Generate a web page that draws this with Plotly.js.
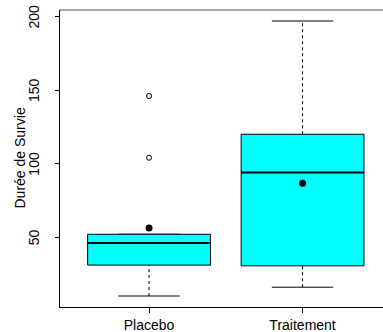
<!DOCTYPE html>
<html>
<head>
<meta charset="utf-8">
<script src="https://cdn.plot.ly/plotly-3.0.1.min.js"></script>
<style>html,body{margin:0;padding:0;background:#fff;}#chart{width:383px;height:332px;}</style>
</head>
<body>
<div id="chart"></div>
<script>
const categories = ['Placebo', 'Traitement'];
const lowerWhisker = [10, 16];
const q1 = [31, 30.5];
const median = [46, 94];
const q3 = [52, 120];
const upperWhisker = [52, 197];
const means = [56.3, 86.6];
const outliers = [[104, 146], []];
const yTicks = [50, 100, 150, 200];
const yTitle = 'Durée de Survie';

const half = 0.4, capHalf = 0.2;
const traces = [];
categories.forEach((c, i) => {
  const x = i + 1;
  traces.push({type: 'scatter', mode: 'lines', hoverinfo: 'skip',
    x: [x, x, null, x, x], y: [lowerWhisker[i], q1[i], null, q3[i], upperWhisker[i]],
    line: {color: '#000', width: 1, dash: '3px,3px'}});
  traces.push({type: 'scatter', mode: 'lines', hoverinfo: 'skip',
    x: [x - capHalf, x + capHalf, null, x - capHalf, x + capHalf],
    y: [lowerWhisker[i], lowerWhisker[i], null, upperWhisker[i], upperWhisker[i]],
    line: {color: '#000', width: 1}});
  traces.push({type: 'scatter', mode: 'lines', fill: 'toself', fillcolor: '#00FFFF', hoverinfo: 'skip',
    x: [x - half, x + half, x + half, x - half, x - half],
    y: [q1[i], q1[i], q3[i], q3[i], q1[i]],
    line: {color: '#000', width: 1}});
  traces.push({type: 'scatter', mode: 'lines', hoverinfo: 'skip',
    x: [x - half, x + half], y: [median[i], median[i]],
    line: {color: '#000', width: 2}});
  if (outliers[i].length) {
    traces.push({type: 'scatter', mode: 'markers', hoverinfo: 'skip',
      x: outliers[i].map(() => x), y: outliers[i],
      marker: {symbol: 'circle-open', size: 5, color: '#000', line: {width: 1, color: '#000'}}});
  }
});
traces.push({type: 'scatter', mode: 'markers', hoverinfo: 'skip',
  x: categories.map((c, i) => i + 1), y: means,
  marker: {symbol: 'circle', size: 7, color: '#000'}});

const annotations = yTicks.map(v => ({
  xref: 'paper', yref: 'y', x: 0, y: v, xshift: -26, xanchor: 'center', yanchor: 'middle',
  text: String(v), textangle: -90, showarrow: false, font: {size: 14, color: '#000'}
}));
annotations.push({xref: 'paper', yref: 'paper', x: 0, y: 0.5, xshift: -41, xanchor: 'center', yanchor: 'middle',
  text: yTitle, textangle: -90, showarrow: false, font: {size: 14, color: '#000'}});

const layout = {
  width: 383, height: 332,
  margin: {l: 60, r: 0, t: 10, b: 25, pad: 0},
  paper_bgcolor: '#fff', plot_bgcolor: '#fff',
  showlegend: false,
  font: {family: 'Liberation Sans, Arial, sans-serif', size: 14, color: '#000'},
  xaxis: {
    range: [0.42, 2.524], tickvals: [1, 2], ticktext: categories,
    showline: true, linecolor: '#000', linewidth: 1,
    ticks: 'outside', ticklen: 5, tickcolor: '#000', tickwidth: 1,
    showgrid: false, zeroline: false, fixedrange: true,
    tickfont: {size: 14, color: '#000'}
  },
  yaxis: {
    range: [2.52, 204.48], tickvals: yTicks, showticklabels: false,
    showline: true, linecolor: '#000', linewidth: 1,
    ticks: 'outside', ticklen: 4, tickcolor: '#000', tickwidth: 1,
    showgrid: false, zeroline: false, fixedrange: true
  },
  annotations: annotations,
  shapes: [{type: 'line', xref: 'paper', yref: 'paper', x0: 0, x1: 1, y0: 1, y1: 1,
    line: {color: '#555', width: 1}}]
};
Plotly.newPlot('chart', traces, layout, {staticPlot: true, displayModeBar: false});
</script>
</body>
</html>
